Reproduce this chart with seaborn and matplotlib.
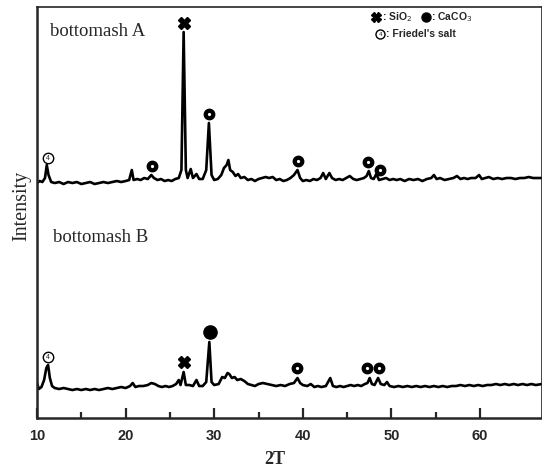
import numpy as np
import matplotlib
matplotlib.use("Agg")
import matplotlib.pyplot as plt
import seaborn as sns

# --- XRD pattern, bottom ash A (counts, before vertical stacking offset) ---
two_theta_a = [10.0, 10.3, 10.6, 10.9, 11.1, 11.3, 11.6, 12.0, 12.5, 13.0, 13.5, 14.0, 14.5, 15.0,
               15.5, 16.0, 16.5, 17.0, 17.5, 18.0, 18.5, 19.0, 19.5, 20.0, 20.4, 20.7, 20.9, 21.3,
               21.7, 22.1, 22.5, 22.9, 23.2, 23.6, 24.0, 24.4, 24.8, 25.2, 25.6, 26.0, 26.3, 26.55,
               26.8, 27.0, 27.35, 27.6, 28.0, 28.3, 28.7, 29.1, 29.4, 29.7, 30.0, 30.4, 30.8, 31.1,
               31.4, 31.6, 31.8, 32.1, 32.4, 32.7, 33.0, 33.4, 33.8, 34.2, 34.6, 35.0, 35.4, 35.8,
               36.2, 36.6, 37.0, 37.4, 37.8, 38.2, 38.6, 39.0, 39.4, 39.7, 40.0, 40.4, 40.8, 41.2,
               41.6, 42.0, 42.3, 42.6, 43.0, 43.3, 43.7, 44.1, 44.5, 44.9, 45.3, 45.7, 46.1, 46.5,
               46.9, 47.2, 47.45, 47.7, 48.0, 48.3, 48.6, 49.0, 49.4, 49.8, 50.2, 50.6, 51.0, 51.5,
               52.0, 52.5, 53.0, 53.5, 54.0, 54.5, 54.8, 55.1, 55.5, 56.0, 56.5, 57.0, 57.4, 57.8,
               58.2, 58.6, 59.0, 59.5, 59.9, 60.2, 60.6, 61.0, 61.5, 62.0, 62.5, 63.0, 63.5, 64.0,
               64.5, 65.0, 65.5, 66.0, 66.5, 67.0]
counts_a = [300, 320, 310, 350, 480, 380, 310, 300, 310, 290, 310, 300, 310, 290,
            300, 310, 290, 300, 310, 300, 310, 320, 310, 320, 330, 430, 330, 340,
            330, 350, 340, 380, 350, 330, 340, 320, 330, 320, 340, 350, 430, 1810,
            430, 350, 440, 350, 390, 340, 340, 430, 900, 380, 330, 340, 380, 450,
            480, 530, 430, 410, 370, 390, 350, 360, 330, 340, 320, 340, 350, 360,
            350, 360, 330, 340, 320, 330, 350, 380, 430, 350, 320, 330, 320, 340,
            330, 350, 400, 340, 400, 350, 330, 340, 330, 350, 370, 340, 330, 340,
            350, 370, 420, 350, 340, 390, 330, 340, 350, 330, 340, 330, 340, 320,
            340, 330, 340, 320, 340, 350, 380, 340, 350, 330, 340, 350, 370, 340,
            350, 340, 350, 350, 380, 340, 350, 360, 340, 350, 340, 350, 350, 340,
            350, 350, 360, 350, 350, 350]

# --- XRD pattern, bottom ash B ---
two_theta_b = [10.0, 10.2, 10.5, 10.8, 11.05, 11.25, 11.45, 11.7, 12.0, 12.5, 13.0, 13.5, 14.0, 14.5,
               15.0, 15.5, 16.0, 16.5, 17.0, 17.5, 18.0, 18.5, 19.0, 19.5, 20.0, 20.5, 20.8, 21.1,
               21.5, 22.0, 22.5, 22.9, 23.3, 23.7, 24.1, 24.5, 24.9, 25.3, 25.7, 26.0, 26.2, 26.55,
               26.8, 27.2, 27.6, 28.0, 28.3, 28.7, 29.1, 29.45, 29.7, 30.0, 30.5, 30.9, 31.2, 31.5,
               31.7, 32.0, 32.3, 32.6, 33.0, 33.4, 33.8, 34.2, 34.6, 35.0, 35.5, 36.0, 36.5, 37.0,
               37.5, 38.0, 38.5, 39.0, 39.4, 39.7, 40.0, 40.5, 40.9, 41.3, 41.7, 42.1, 42.6, 43.1,
               43.4, 43.8, 44.2, 44.6, 45.0, 45.4, 45.8, 46.2, 46.6, 47.0, 47.3, 47.55, 47.8, 48.1,
               48.5, 48.8, 49.2, 49.5, 49.8, 50.3, 50.8, 51.3, 51.8, 52.3, 52.8, 53.3, 53.8, 54.3,
               54.8, 55.3, 55.8, 56.3, 56.8, 57.3, 57.8, 58.3, 58.8, 59.3, 59.8, 60.3, 60.8, 61.3,
               61.8, 62.3, 62.8, 63.3, 63.8, 64.3, 64.8, 65.3, 65.8, 66.3, 67.0]
counts_b = [350, 290, 310, 380, 500, 530, 400, 320, 300, 290, 300, 290, 280, 290,
            280, 290, 280, 290, 280, 290, 300, 290, 300, 310, 300, 320, 350, 310,
            320, 320, 330, 350, 340, 320, 310, 320, 310, 320, 340, 380, 330, 460,
            330, 330, 320, 380, 320, 320, 360, 760, 360, 330, 340, 410, 400, 450,
            440, 400, 410, 380, 390, 370, 340, 330, 320, 340, 350, 340, 330, 320,
            330, 320, 340, 350, 400, 350, 330, 320, 340, 310, 320, 310, 320, 400,
            320, 310, 320, 310, 320, 330, 320, 330, 320, 340, 350, 400, 340, 330,
            400, 340, 330, 360, 320, 310, 320, 310, 320, 310, 320, 310, 320, 310,
            320, 310, 320, 310, 320, 320, 330, 320, 330, 320, 330, 320, 330, 330,
            340, 330, 340, 330, 340, 330, 340, 330, 340, 330, 340]

offset_a = 2050

# Phase identification markers: (2theta, phase)
peaks_a = [(11.2, "F"), (23.0, "C"), (26.55, "S"), (29.4, "C"), (39.5, "C"), (47.4, "C"), (48.7, "C")]
peaks_b = [(11.25, "F"), (26.55, "S"), (29.5, "C"), (39.4, "C"), (47.3, "C"), (48.6, "C")]

sns.set_style("ticks")
plt.rcParams['font.family'] = ['Liberation Serif', 'DejaVu Serif']

fig = plt.figure(figsize=(5.42, 4.74), dpi=100)
ax = fig.add_axes([0.0683, 0.1181, 0.9317, 0.8671])

ya = np.array(counts_a) + offset_a
yb = np.array(counts_b)
sns.lineplot(x=two_theta_a, y=ya, ax=ax, color="black", lw=1.9, sort=False)
sns.lineplot(x=two_theta_b, y=yb, ax=ax, color="black", lw=1.9, sort=False)


def draw_markers(peaks, xs, ys, gap, solid_big=()):
    xs = np.asarray(xs)
    ys = np.asarray(ys)
    for t, ph in peaks:
        near = np.abs(xs - t) < 0.35
        top = ys[near].max()
        if ph == "S":
            ax.plot(t, top + gap + 20, marker="X", ms=8, color="black", mec="black", zorder=5)
        elif ph == "C":
            big = t in solid_big
            ax.plot(t, top + gap + 20, marker="o", ms=9.5 if big else 7.5, color="black", zorder=5)
            if not big:
                ax.plot(t, top + gap + 20, marker="o", ms=1.3, color="white", mec="white", zorder=6)
        else:
            ax.plot(t, top + gap, marker="o", ms=7.5, mfc="white", mec="black", mew=1.0, zorder=5)
            ax.text(t, top + gap, "4", fontsize=5, ha="center", va="center",
                    family="Liberation Sans", zorder=6)


draw_markers(peaks_a, two_theta_a, ya, 70)
draw_markers(peaks_b, two_theta_b, yb, 80, solid_big=(29.5,))

ax.set_xlim(10, 67)
ax.set_ylim(0, 4110)
ax.set_yticks([])
ax.set_xticks([10, 20, 30, 40, 50, 60])
ax.set_xticks([15, 25, 35, 45, 55], minor=True)
ax.tick_params(axis="x", which="major", direction="in", length=7, width=1.6, pad=8)
ax.tick_params(axis="x", which="minor", direction="in", length=4, width=1.6)
for lbl in ax.get_xticklabels():
    lbl.set_family("Liberation Sans")
    lbl.set_fontweight("bold")
    lbl.set_fontsize(10.5)

for side in ["left", "bottom"]:
    ax.spines[side].set_linewidth(1.8)
ax.spines["top"].set_linewidth(1.2)
ax.spines["right"].set_linewidth(1.2)

ax.set_xlabel("2T", fontsize=13, fontweight="bold")
ax.xaxis.set_label_coords(0.47, -0.08)
ax.set_ylabel("Intensity", fontsize=14.5)
ax.yaxis.set_label_coords(-0.012, 0.515)

ax.text(0.025, 0.94, "bottomash A", transform=ax.transAxes, fontsize=13.5, va="center")
ax.text(0.031, 0.44, "bottomash B", transform=ax.transAxes, fontsize=13.5, va="center")

# legend of phase symbols
ax.plot(0.672, 0.975, marker="X", ms=6.5, color="black", transform=ax.transAxes, clip_on=False)
ax.text(0.683, 0.975, ": SiO$_2$", transform=ax.transAxes, fontsize=7.5, va="center",
        family="Liberation Sans", fontweight="bold")
ax.plot(0.77, 0.975, marker="o", ms=6.5, color="black", transform=ax.transAxes, clip_on=False)
ax.text(0.781, 0.975, ": CaCO$_3$", transform=ax.transAxes, fontsize=7.5, va="center",
        family="Liberation Sans", fontweight="bold")
ax.plot(0.68, 0.934, marker="o", ms=6.5, mfc="white", mec="black", mew=1.0,
        transform=ax.transAxes, clip_on=False)
ax.text(0.68, 0.934, "4", transform=ax.transAxes, fontsize=4.5, ha="center", va="center",
        family="Liberation Sans")
ax.text(0.691, 0.934, ": Friedel's salt", transform=ax.transAxes, fontsize=7.5, va="center",
        family="Liberation Sans", fontweight="bold")

fig.savefig("out.png", dpi=100)
